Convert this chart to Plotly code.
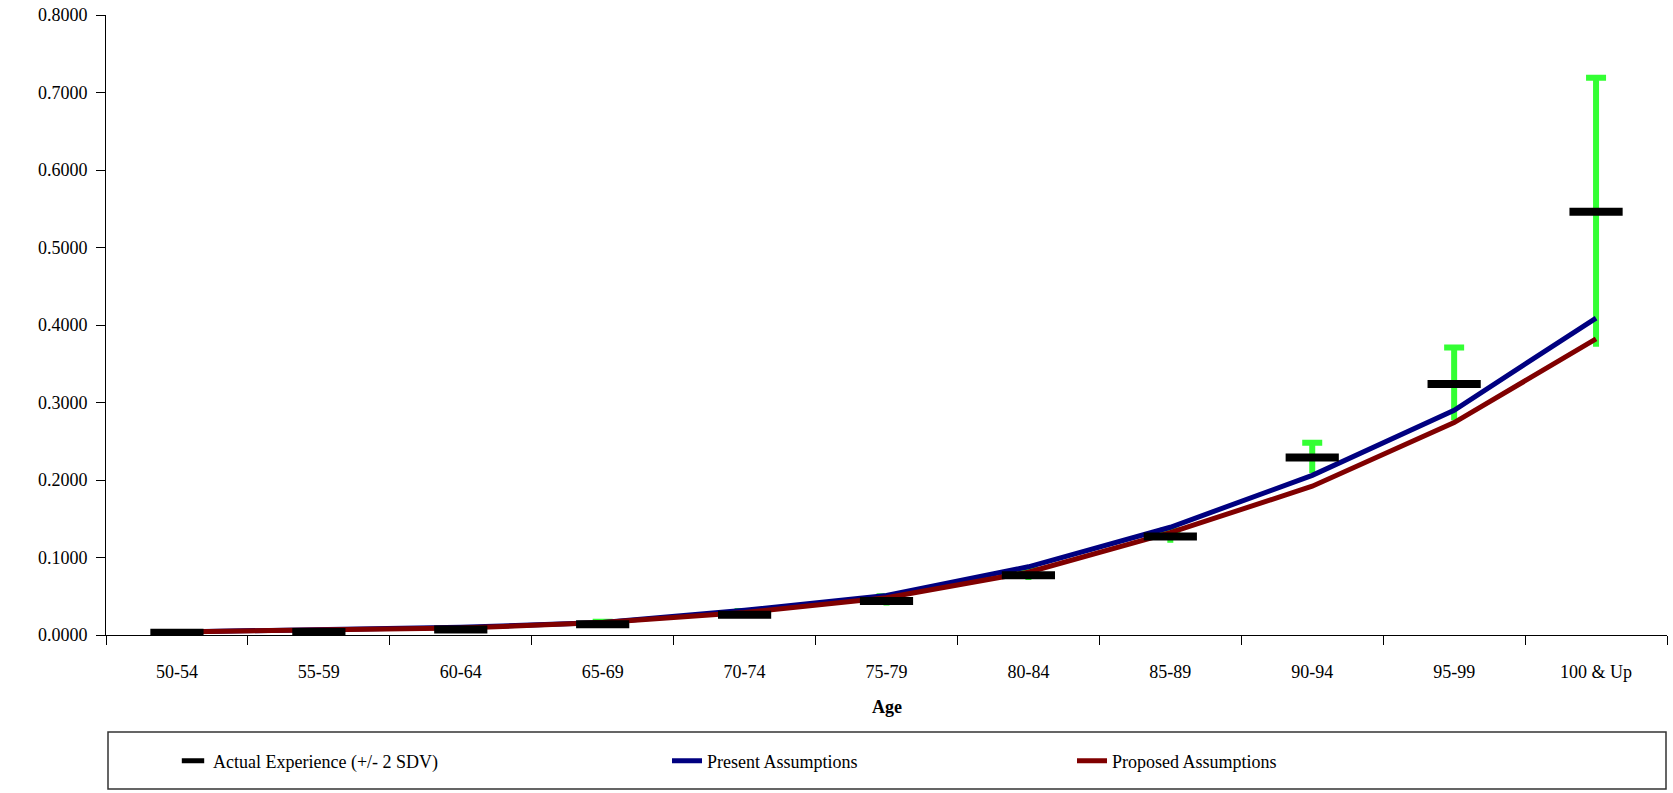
import plotly.graph_objects as go

ages = ["50-54", "55-59", "60-64", "65-69", "70-74", "75-79",
        "80-84", "85-89", "90-94", "95-99", "100 & Up"]
actual = [0.003, 0.004, 0.007, 0.014, 0.026, 0.044, 0.077, 0.127, 0.229, 0.324, 0.546]
actual_upper = [0.004, 0.005, 0.009, 0.017, 0.031, 0.050, 0.084, 0.135, 0.248, 0.371, 0.719]
actual_lower = [0.002, 0.003, 0.005, 0.011, 0.022, 0.038, 0.071, 0.119, 0.209, 0.277, 0.372]
present = [0.004, 0.007, 0.010, 0.016, 0.032, 0.051, 0.088, 0.139, 0.206, 0.290, 0.409]
proposed = [0.004, 0.006, 0.009, 0.016, 0.029, 0.048, 0.081, 0.132, 0.192, 0.274, 0.382]

plus = [u - a for u, a in zip(actual_upper, actual)]
minus = [a - l for a, l in zip(actual, actual_lower)]
zeros = [0] * len(ages)

GREEN = "#33FF33"
FONT = "Liberation Serif, Times New Roman, serif"

fig = go.Figure()
# upper error bars (with cap)
fig.add_trace(go.Scatter(
    x=ages, y=actual, mode="markers", marker=dict(size=1, color="rgba(0,0,0,0)"),
    error_y=dict(type="data", symmetric=False, array=plus, arrayminus=zeros,
                 color=GREEN, thickness=6, width=10),
    showlegend=False, hoverinfo="skip"))
# lower error bars (no cap)
fig.add_trace(go.Scatter(
    x=ages, y=actual, mode="markers", marker=dict(size=1, color="rgba(0,0,0,0)"),
    error_y=dict(type="data", symmetric=False, array=zeros, arrayminus=minus,
                 color=GREEN, thickness=6, width=0),
    showlegend=False, hoverinfo="skip"))
fig.add_trace(go.Scatter(
    x=ages, y=present, mode="lines", name="Present Assumptions",
    line=dict(color="#000080", width=5), legend="legend2"))
fig.add_trace(go.Scatter(
    x=ages, y=proposed, mode="lines", name="Proposed Assumptions",
    line=dict(color="#800000", width=5), legend="legend3"))
fig.add_trace(go.Scatter(
    x=ages, y=actual, mode="markers", name="Actual Experience (+/- 2 SDV)",
    marker=dict(symbol="line-ew", size=38, color="black",
                line=dict(color="black", width=8)),
    legend="legend"))

W, H = 1673, 793
PL, PR, PT, PB = 106, 1667, 15, 635   # plot area in page pixels
pw, ph = PR - PL, PB - PT

def px(xp):
    return (xp - PL) / pw

def py(yp):
    return (PB - yp) / ph

legend_common = dict(orientation="h", yanchor="middle", xanchor="left",
                     bgcolor="rgba(0,0,0,0)", borderwidth=0,
                     font=dict(family=FONT, size=18, color="black"))

fig.update_layout(
    width=W, height=H,
    margin=dict(l=PL, r=W - PR, t=PT, b=H - PB),
    paper_bgcolor="white", plot_bgcolor="white",
    font=dict(family=FONT, size=18, color="black"),
    xaxis=dict(type="category", range=[-0.5, 10.5], showgrid=False,
               showline=True, linecolor="black", linewidth=1,
               ticks="outside", tickson="boundaries", ticklen=9,
               tickcolor="black", ticklabelstandoff=20,
               tickfont=dict(family=FONT, size=18)),
    yaxis=dict(range=[0, 0.8], dtick=0.1, tickformat=".4f", showgrid=False,
               zeroline=False, showline=True, linecolor="black", linewidth=1,
               ticks="outside", ticklen=9, tickcolor="black",
               ticklabelstandoff=5, ticklabeloverflow="allow",
               tickfont=dict(family=FONT, size=18)),
    legend=dict(x=px(173), y=py(761), **legend_common),
    legend2=dict(x=px(667), y=py(761), **legend_common),
    legend3=dict(x=px(1072), y=py(761), **legend_common),
    annotations=[dict(text="<b>Age</b>", x=0.5, y=py(707), xref="paper", yref="paper",
                      showarrow=False, yanchor="middle",
                      font=dict(family=FONT, size=18, color="black"))],
    shapes=[dict(type="rect", xref="paper", yref="paper",
                 x0=px(108), x1=px(1666), y0=py(789), y1=py(732),
                 line=dict(color="#333333", width=1.5), fillcolor="rgba(0,0,0,0)")],
)

fig.write_html("out.html", config={"displayModeBar": False},
               post_script="document.body.style.margin='0';document.body.style.overflow='hidden';")
